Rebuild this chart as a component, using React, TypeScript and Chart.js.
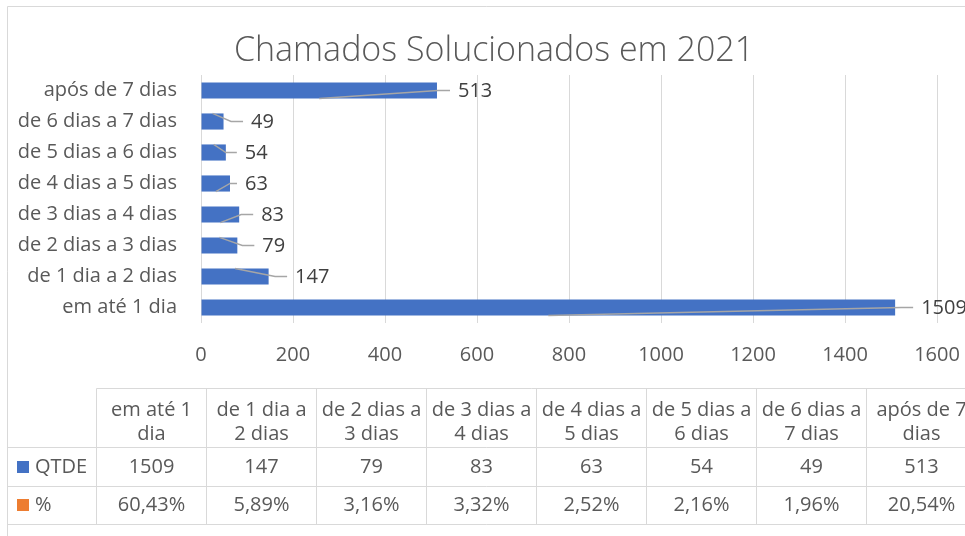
import React, { useEffect, useRef } from "react";
import { Chart, registerables } from "chart.js";

Chart.register(...registerables);

const chartTitle = "Chamados Solucionados em 2021";
const categories = [
  "em até 1 dia",
  "de 1 dia a 2 dias",
  "de 2 dias a 3 dias",
  "de 3 dias a 4 dias",
  "de 4 dias a 5 dias",
  "de 5 dias a 6 dias",
  "de 6 dias a 7 dias",
  "após de 7 dias",
];
const qtde = [1509, 147, 79, 83, 63, 54, 49, 513];
const percent = [60.43, 5.89, 3.16, 3.32, 2.52, 2.16, 1.96, 20.54];
const seriesNames = ["QTDE", "%"];
const xMax = 1600;
const xStep = 200;

const FONT = "'Open Sans', 'DejaVu Sans', sans-serif";
const TEXT = "#595959";
const LABEL = "#404040";
const GRID = "#D9D9D9";
const BLUE = "#4472C4";
const ORANGE = "#ED7D31";

export default function App() {
  const ref = useRef<HTMLCanvasElement>(null);

  useEffect(() => {
    const canvas = ref.current;
    if (!canvas) return;

    const framePlugin = {
      id: "frame",
      beforeDraw(chart: any) {
        const ctx = chart.ctx;
        ctx.save();
        ctx.fillStyle = "#ffffff";
        ctx.fillRect(0, 0, chart.width, chart.height);
        ctx.strokeStyle = GRID;
        ctx.lineWidth = 1;
        ctx.beginPath();
        ctx.moveTo(7.5, chart.height + 2);
        ctx.lineTo(7.5, 6.5);
        ctx.lineTo(chart.width + 2, 6.5);
        ctx.stroke();
        // title
        ctx.fillStyle = TEXT;
        ctx.font = `300 34px ${FONT}`;
        ctx.textAlign = "center";
        ctx.textBaseline = "alphabetic";
        ctx.fillText(chartTitle, 494, 61);
        ctx.restore();
      },
    };

    // gap between bar end and label, and whether leader starts from the bar's top edge
    const labelGap = [26, 26.5, 25, 22, 15, 19, 27.5, 21];
    const leaderTop = [false, true, true, false, false, true, true, false];

    const labelPlugin = {
      id: "leaderLabels",
      afterDatasetsDraw(chart: any) {
        const ctx = chart.ctx;
        const meta = chart.getDatasetMeta(0);
        ctx.save();
        ctx.font = `20px ${FONT}`;
        ctx.textAlign = "left";
        ctx.textBaseline = "middle";
        meta.data.forEach((bar: any, i: number) => {
          const p = bar.getProps(["x", "y", "base", "height"], true);
          const end = p.x;
          const mid = (p.x + p.base) / 2;
          const half = p.height / 2;
          const labelX = end + labelGap[i];
          const sy = leaderTop[i] ? p.y - half : p.y + half;
          const bendX = Math.max(end, labelX - 20);
          ctx.strokeStyle = "#A6A6A6";
          ctx.lineWidth = 1.4;
          ctx.beginPath();
          ctx.moveTo(mid, sy);
          ctx.lineTo(bendX, p.y);
          ctx.lineTo(labelX - 8, p.y);
          ctx.stroke();
          ctx.fillStyle = LABEL;
          ctx.fillText(String(qtde[i]), labelX, p.y + 1);
        });
        ctx.restore();
      },
    };

    const tablePlugin = {
      id: "dataTable",
      afterDraw(chart: any) {
        const ctx = chart.ctx;
        const W = chart.width;
        const colLeft = 96.5;
        const colW = 110;
        const yTop = 388.5;
        const yHead = 447.5;
        const yRow1 = 486.5;
        const yRow2 = 524.5;
        ctx.save();
        ctx.strokeStyle = GRID;
        ctx.lineWidth = 1;
        ctx.beginPath();
        ctx.moveTo(colLeft, yTop);
        ctx.lineTo(W + 2, yTop);
        [yHead, yRow1, yRow2].forEach((y) => {
          ctx.moveTo(7.5, y);
          ctx.lineTo(W + 2, y);
        });
        for (let c = 0; c <= categories.length; c++) {
          const x = colLeft + c * colW;
          ctx.moveTo(x, yTop);
          ctx.lineTo(x, yRow2);
        }
        ctx.stroke();

        ctx.fillStyle = TEXT;
        ctx.font = `20px ${FONT}`;
        ctx.textAlign = "center";
        ctx.textBaseline = "middle";
        const maxW = 104;
        categories.forEach((cat, i) => {
          const cx = colLeft + i * colW + colW / 2;
          const words = cat.split(" ");
          const lines: string[] = [];
          let cur = "";
          words.forEach((w) => {
            const test = cur ? cur + " " + w : w;
            if (ctx.measureText(test).width > maxW && cur) {
              lines.push(cur);
              cur = w;
            } else cur = test;
          });
          if (cur) lines.push(cur);
          const startY = lines.length === 1 ? 422 : 410;
          lines.forEach((ln, k) => ctx.fillText(ln, cx, startY + k * 24));
          ctx.fillText(String(qtde[i]), cx, 467);
          ctx.fillText(percent[i].toFixed(2).replace(".", ",") + "%", cx, 505);
        });
        // legend keys
        ctx.textAlign = "left";
        ctx.fillStyle = BLUE;
        ctx.fillRect(17, 461, 12, 12);
        ctx.fillStyle = ORANGE;
        ctx.fillRect(17, 499, 12, 12);
        ctx.fillStyle = TEXT;
        ctx.fillText(seriesNames[0], 35, 467);
        ctx.fillText(seriesNames[1], 35, 505);
        ctx.restore();
      },
    };

    const chart = new Chart(canvas, {
      type: "bar",
      data: {
        labels: categories,
        datasets: [
          {
            label: seriesNames[0],
            data: qtde,
            backgroundColor: BLUE,
            categoryPercentage: 1,
            barPercentage: 0.52,
          },
        ],
      },
      options: {
        indexAxis: "y",
        responsive: false,
        animation: false,
        devicePixelRatio: 1,
        layout: { padding: { top: 75, right: 28, bottom: 163, left: 0 } },
        plugins: {
          legend: { display: false },
          title: { display: false },
          tooltip: { enabled: false },
        },
        scales: {
          x: {
            min: 0,
            max: xMax,
            grid: { color: GRID, drawTicks: false, lineWidth: 1 },
            border: { display: false },
            ticks: {
              stepSize: xStep,
              color: TEXT,
              font: { family: FONT, size: 20 },
              padding: 20,
              maxRotation: 0,
              callback: (v: any) => String(v),
            },
            afterFit(scale: any) {
              scale.height = 50;
              scale.paddingLeft = 0;
              scale.paddingRight = 0;
            },
          },
          y: {
            reverse: true,
            grid: { display: false, drawTicks: false },
            border: { display: false },
            ticks: {
              color: TEXT,
              font: { family: FONT, size: 20 },
              padding: 24,
            },
            afterFit(scale: any) {
              scale.width = 201;
              scale.paddingTop = 0;
              scale.paddingBottom = 0;
            },
          },
        },
      } as any,
      plugins: [framePlugin, labelPlugin, tablePlugin],
    });

    return () => chart.destroy();
  }, []);

  return (
    <div style={{ position: "fixed", left: 0, top: 0, width: 965, height: 536, background: "#fff" }}>
      <canvas ref={ref} width={965} height={536} style={{ display: "block", width: 965, height: 536 }} />
    </div>
  );
}
